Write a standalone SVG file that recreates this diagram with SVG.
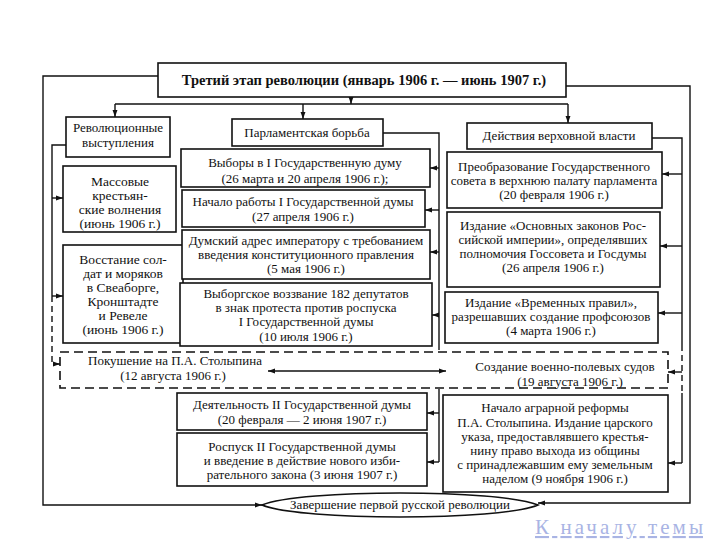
<svg xmlns="http://www.w3.org/2000/svg" width="720" height="540" viewBox="0 0 720 540">
<style>
.box{fill:#fff;stroke:#111;stroke-width:1.6}
.dbox{fill:none;stroke:#111;stroke-width:1.6;stroke-dasharray:9 5}
.t{font-family:"Liberation Serif","Times New Roman",serif;font-size:13px;fill:#111;text-anchor:middle}
.tl{font-size:13.5px}
.ti{font-family:"Liberation Serif","Times New Roman",serif;font-size:14.5px;font-weight:bold;fill:#111;text-anchor:middle}
.ln{fill:none;stroke:#111;stroke-width:1.4}
.a{marker-end:url(#ah)}
.dl{stroke-dasharray:6 4}
</style>
<defs>
<marker id="ah" viewBox="0 0 10 10" refX="10" refY="5" markerWidth="7" markerHeight="7" markerUnits="userSpaceOnUse" orient="auto-start-reverse">
<path d="M0,1.5 L10,5 L0,8.5 Z" fill="#111"/>
</marker>
</defs>
<rect width="720" height="540" fill="#fff"/>

<g id="connectors">
<path class="ln a" d="M158,76 H43 V505 H262"/>
<path class="ln a" d="M566,86 H690 V503 H538"/>
<path class="ln a" d="M351,97 V104"/>
<path class="ln" d="M115,104 H568"/>
<path class="ln a" d="M115,104 V117"/>
<path class="ln a" d="M303,104 V119"/>
<path class="ln a" d="M568,104 V123"/>
<path class="ln" d="M66,145 H52 V296"/>
<path class="ln a" d="M52,198 H63"/>
<path class="ln a" d="M52,296 H63"/>
<path class="ln a dl" d="M52,296 V364 H60"/>
<path class="ln" d="M383,133 H439 V350"/>
<path class="ln a" d="M439,168 H430"/>
<path class="ln a" d="M439,210 H425"/>
<path class="ln a" d="M439,252 H430"/>
<path class="ln a" d="M439,315 H432"/>
<path class="ln" d="M439,389 V462"/>
<path class="ln a" d="M439,413 H427"/>
<path class="ln a" d="M439,462 H427"/>
<path class="ln" d="M652,138 H682 V345"/>
<path class="ln a" d="M682,174 H662"/>
<path class="ln a" d="M682,246 H660"/>
<path class="ln a" d="M682,313 H658"/>
<path class="ln dl" d="M682,345 V393"/>
<path class="ln a" d="M682,372 H668"/>
<path class="ln" d="M682,393 V463"/>
<path class="ln a" d="M682,463 H668"/>
<path class="ln a" d="M268,371 H446" marker-start="url(#ah)"/>
</g>

<g id="title">
<rect class="box" x="158" y="63" width="408" height="34"/>
<text class="ti" x="364" y="85">Третий этап революции (январь 1906 г. — июнь 1907 г.)</text>
</g>

<g id="rev">
<rect class="box" x="66" y="117" width="104" height="40"/>
<text class="t" x="118" y="132">Революционные</text>
<text class="t" x="118" y="147">выступления</text>
</g>

<g id="parl">
<rect class="box" x="232" y="119" width="151" height="27"/>
<text class="t" x="307" y="137">Парламентская борьба</text>
</g>

<g id="power">
<rect class="box" x="467" y="123" width="185" height="26"/>
<text class="t" x="559" y="140">Действия верховной власти</text>
</g>

<g id="peasants">
<rect class="box" x="63" y="166" width="113" height="66"/>
<text class="t tl" x="120" y="186">Массовые</text>
<text class="t tl" x="120" y="200">крестьян-</text>
<text class="t tl" x="120" y="214">ские волнения</text>
<text class="t tl" x="120" y="228">(июнь 1906 г.)</text>
</g>

<g id="uprising">
<rect class="box" x="63" y="245" width="120" height="98"/>
<text class="t tl" x="123" y="264">Восстание сол-</text>
<text class="t tl" x="123" y="278">дат и моряков</text>
<text class="t tl" x="123" y="292">в Свеаборге,</text>
<text class="t tl" x="123" y="306">Кронштадте</text>
<text class="t tl" x="123" y="320">и Ревеле</text>
<text class="t tl" x="123" y="334">(июнь 1906 г.)</text>
</g>

<g id="m1">
<rect class="box" x="181" y="149" width="249" height="38"/>
<text class="t" x="305" y="167">Выборы в I Государственную думу</text>
<text class="t" x="305" y="183">(26 марта и 20 апреля 1906 г.);</text>
</g>

<g id="m2">
<rect class="box" x="182" y="190" width="243" height="37"/>
<text class="t" x="303" y="206">Начало работы I Государственной думы</text>
<text class="t" x="303" y="221">(27 апреля 1906 г.)</text>
</g>

<g id="m3">
<rect class="box" x="182" y="230" width="248" height="49"/>
<text class="t" x="306" y="245">Думский адрес императору с требованием</text>
<text class="t" x="306" y="259">введения конституционного правления</text>
<text class="t" x="306" y="273">(5 мая 1906 г.)</text>
</g>

<g id="m4">
<rect class="box" x="180" y="283" width="252" height="63"/>
<text class="t" x="306" y="298">Выборгское воззвание 182 депутатов</text>
<text class="t" x="306" y="312">в знак протеста против роспуска</text>
<text class="t" x="306" y="326">I Государственной думы</text>
<text class="t" x="306" y="341">(10 июля 1906 г.)</text>
</g>

<g id="r1">
<rect class="box" x="447" y="152" width="215" height="56"/>
<text class="t" x="554" y="171">Преобразование Государственного</text>
<text class="t" x="554" y="185">совета в верхнюю палату парламента</text>
<text class="t" x="554" y="199">(20 февраля 1906 г.)</text>
</g>

<g id="r2">
<rect class="box" x="447" y="212" width="213" height="75"/>
<text class="t" x="553" y="230">Издание «Основных законов Рос-</text>
<text class="t" x="553" y="244">сийской империи», определявших</text>
<text class="t" x="553" y="258">полномочия Госсовета и Госдумы</text>
<text class="t" x="553" y="272">(26 апреля 1906 г.)</text>
</g>

<g id="r3">
<rect class="box" x="445" y="292" width="213" height="51"/>
<text class="t" x="551" y="307">Издание «Временных правил»,</text>
<text class="t" x="551" y="321">разрешавших создание профсоюзов</text>
<text class="t" x="551" y="335">(4 марта 1906 г.)</text>
</g>

<g id="dashed">
<rect class="dbox" x="60" y="352" width="608" height="36"/>
<text class="t" x="175" y="365">Покушение на П.А. Столыпина</text>
<text class="t" x="173" y="380">(12 августа 1906 г.)</text>
<text class="t" x="565" y="371">Создание военно-полевых судов</text>
<text class="t" x="570" y="386">(19 августа 1906 г.)</text>
</g>

<g id="m5">
<rect class="box" x="177" y="393" width="250" height="37"/>
<text class="t" x="302" y="409">Деятельность II Государственной думы</text>
<text class="t" x="302" y="424">(20 февраля — 2 июня 1907 г.)</text>
</g>

<g id="m6">
<rect class="box" x="177" y="433" width="250" height="53"/>
<text class="t" x="302" y="451">Роспуск II Государственной думы</text>
<text class="t" x="302" y="465">и введение в действие нового изби-</text>
<text class="t" x="302" y="479">рательного закона (3 июня 1907 г.)</text>
</g>

<g id="r4">
<rect class="box" x="443" y="395" width="225" height="97"/>
<text class="t" x="555" y="412">Начало аграрной реформы</text>
<text class="t" x="555" y="427">П.А. Столыпина. Издание царского</text>
<text class="t" x="555" y="441">указа, предоставлявшего крестья-</text>
<text class="t" x="555" y="455">нину право выхода из общины</text>
<text class="t" x="555" y="469">с принадлежавшим ему земельным</text>
<text class="t" x="555" y="483">наделом (9 ноября 1906 г.)</text>
</g>

<g id="end">
<path class="box" d="M262,505 C300,489 500,489 538,505 C500,521 300,521 262,505 Z"/>
<text class="t" x="400" y="509">Завершение первой русской революции</text>
</g>

<g id="link">
<text x="535" y="534" font-family="'Liberation Serif','Times New Roman',serif" font-size="21" fill="#a9b4e4" text-decoration="underline" textLength="168" lengthAdjust="spacing">К началу темы</text>
</g>
</svg>
